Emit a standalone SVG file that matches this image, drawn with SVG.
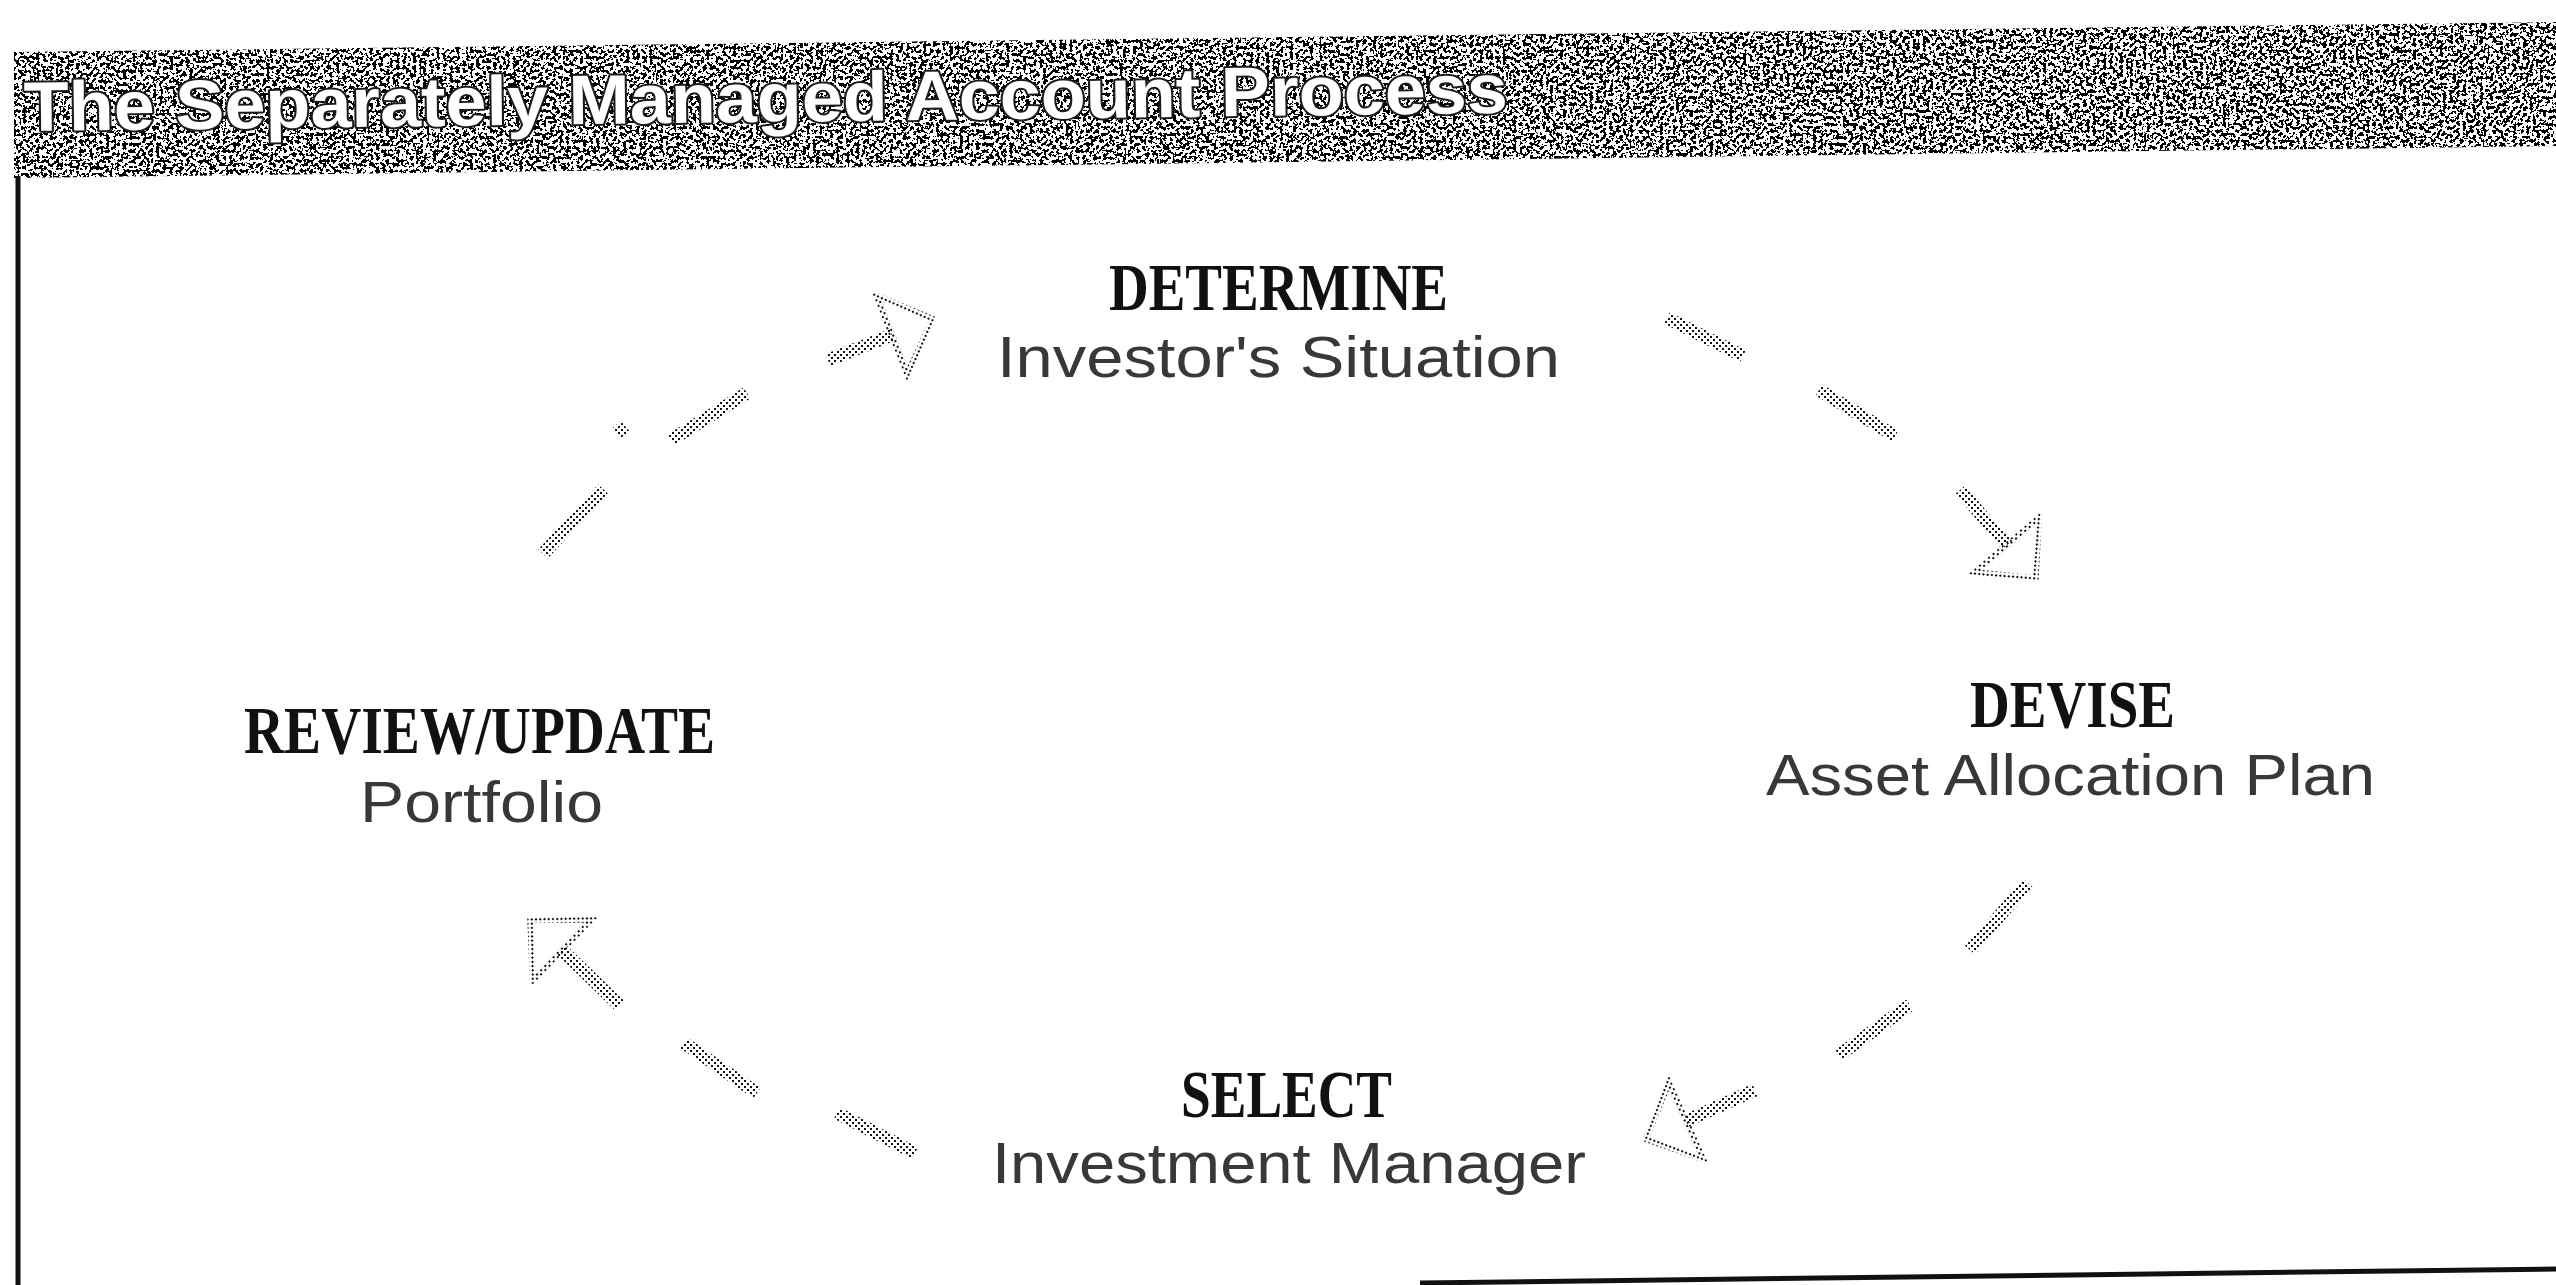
<svg xmlns="http://www.w3.org/2000/svg" width="2556" height="1285" viewBox="0 0 2556 1285">
  <defs>
    <style>
      .step { font-family: "Liberation Serif", "Times New Roman", serif; font-weight: bold; font-size: 68px; fill: #111; }
      .sub { font-family: "Liberation Sans", Arial, sans-serif; font-size: 58px; fill: #383838; }
      .title { font-family: "Liberation Sans", Arial, sans-serif; font-weight: bold; font-size: 70px; fill: #fff; stroke: #1a1a1a; stroke-width: 4; paint-order: stroke; stroke-linejoin: round; }
      .dash { fill: none; stroke: url(#stipple); stroke-width: 13; stroke-linecap: butt; }
      .rule { fill: none; stroke: #111; stroke-width: 5; }
    </style>
    <!-- halftone dots used for the dashed cycle arrows -->
    <pattern id="stipple" width="6" height="6" patternUnits="userSpaceOnUse">
      <rect x="0" y="0" width="2" height="2" fill="#111"/>
      <rect x="3" y="3" width="2" height="2" fill="#111"/>
    </pattern>
    <!-- open triangular arrowhead -->
    <marker id="openHead" markerUnits="userSpaceOnUse" viewBox="-10 -50 70 100" markerWidth="70" markerHeight="100" refX="0" refY="0" orient="auto" overflow="visible">
      <path d="M0,-42 L44,0 L0,42 Z" fill="none" stroke="url(#stipple)" stroke-width="6" stroke-linejoin="miter"/>
    </marker>
    <!-- coarse black/white grain for the title band -->
    <filter id="grain" x="0" y="0" width="1" height="1" color-interpolation-filters="sRGB">
      <feTurbulence type="fractalNoise" baseFrequency="0.3" numOctaves="2" seed="11" result="noise"/>
      <feColorMatrix in="noise" type="matrix" values="0 0 0 0 0  0 0 0 0 0  0 0 0 0 0  1 0 0 0 0" result="mask"/>
      <feComponentTransfer in="mask" result="dots">
        <feFuncA type="discrete" tableValues="0 0 0 0 0 0 0 0 0 0 0 0 0 1 1 1 1 1 1 1 1 1 1 1 1"/>
      </feComponentTransfer>
      <feComposite in="dots" in2="SourceGraphic" operator="in"/>
    </filter>
  </defs>

  <rect width="2556" height="1285" fill="#fff"/>

  <!-- title band -->
  <g id="title">
    <polygon points="14,52 2556,22 2556,146 14,178" fill="#000" filter="url(#grain)"/>
    <text class="title" x="24" y="131" textLength="1484" lengthAdjust="spacingAndGlyphs" transform="rotate(-0.7 24 131)">The Separately Managed Account Process</text>
  </g>

  <!-- open frame: left rule and bottom rule -->
  <g id="frame">
    <line class="rule" x1="18" y1="176" x2="18" y2="1285"/>
    <line class="rule" x1="1420" y1="1283" x2="2556" y2="1269" stroke-width="4"/>
  </g>

  <!-- process steps -->
  <g id="node-determine">
    <text class="step" x="1109" y="310" textLength="339" lengthAdjust="spacingAndGlyphs">DETERMINE</text>
    <text class="sub" x="997" y="377" textLength="563" lengthAdjust="spacingAndGlyphs">Investor's Situation</text>
  </g>
  <g id="node-devise">
    <text class="step" x="1970" y="727" textLength="205" lengthAdjust="spacingAndGlyphs">DEVISE</text>
    <text class="sub" x="1766" y="795" textLength="609" lengthAdjust="spacingAndGlyphs">Asset Allocation Plan</text>
  </g>
  <g id="node-select">
    <text class="step" x="1181" y="1117" textLength="211" lengthAdjust="spacingAndGlyphs">SELECT</text>
    <text class="sub" x="992" y="1183" textLength="594" lengthAdjust="spacingAndGlyphs">Investment Manager</text>
  </g>
  <g id="node-review">
    <text class="step" x="244" y="753" textLength="471" lengthAdjust="spacingAndGlyphs">REVIEW/UPDATE</text>
    <text class="sub" x="360" y="822" textLength="243" lengthAdjust="spacingAndGlyphs">Portfolio</text>
  </g>

  <!-- dashed cycle arrows -->
  <g id="connectors">
    <!-- review -> determine -->
    <line class="dash" x1="543" y1="554" x2="603" y2="489"/>
    <line class="dash" x1="617" y1="433" x2="625" y2="426"/>
    <line class="dash" x1="671" y1="440" x2="747" y2="393"/>
    <line class="dash" x1="828" y1="360" x2="892" y2="335" marker-end="url(#openHead)"/>
    <!-- determine -> devise -->
    <line class="dash" x1="1667" y1="318" x2="1743" y2="356"/>
    <line class="dash" x1="1819" y1="390" x2="1895" y2="436"/>
    <line class="dash" x1="1960" y1="490" x2="2007" y2="545" marker-end="url(#openHead)"/>
    <!-- devise -> select -->
    <line class="dash" x1="2028" y1="883" x2="1970" y2="950"/>
    <line class="dash" x1="1910" y1="1005" x2="1839" y2="1055"/>
    <line class="dash" x1="1755" y1="1090" x2="1686" y2="1121" marker-end="url(#openHead)"/>
    <!-- select -> review -->
    <line class="dash" x1="915" y1="1153" x2="837" y2="1113"/>
    <line class="dash" x1="757" y1="1093" x2="684" y2="1043"/>
    <line class="dash" x1="619" y1="1005" x2="562" y2="950" marker-end="url(#openHead)"/>
  </g>
</svg>
